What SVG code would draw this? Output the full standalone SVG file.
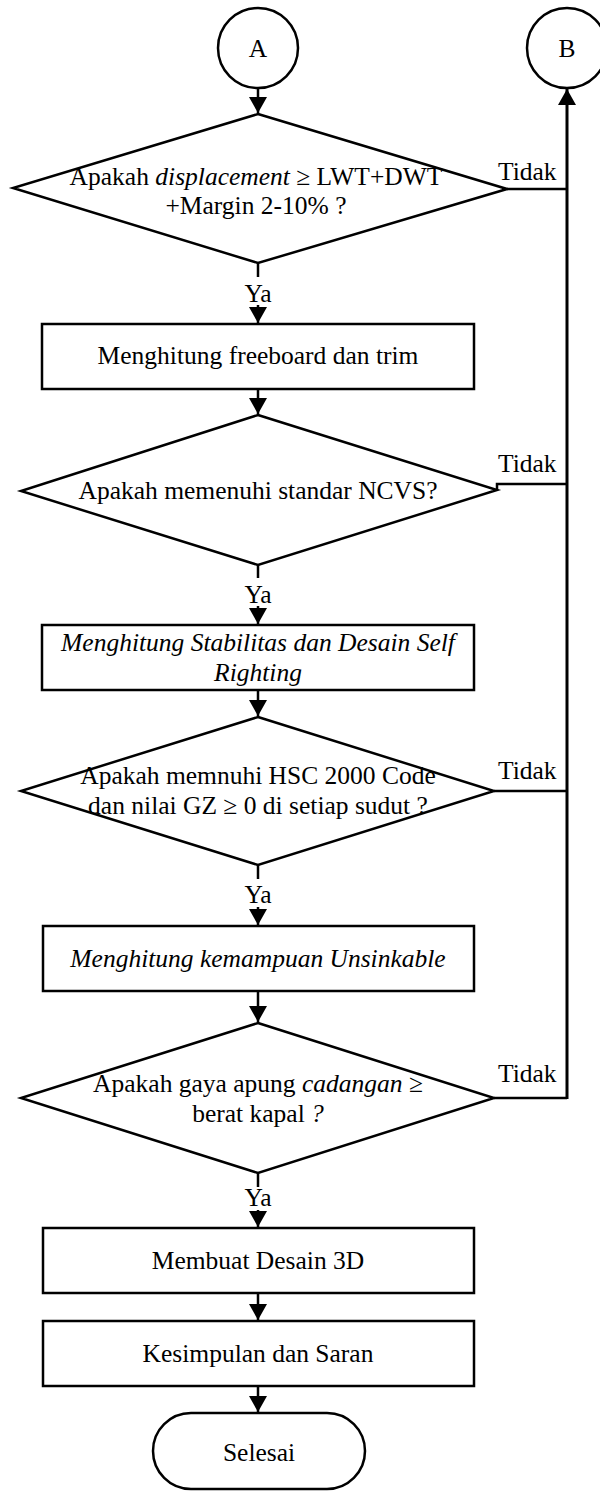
<svg xmlns="http://www.w3.org/2000/svg" width="600" height="1492" viewBox="0 0 600 1492">
<style>
.s{fill:#fff;stroke:#000;stroke-width:2.5}
.c{fill:none;stroke:#000;stroke-width:2.5}
.t{font-family:"Liberation Serif","Times New Roman",serif;font-size:25.5px;fill:#000;text-anchor:middle}
.l{font-family:"Liberation Serif","Times New Roman",serif;font-size:25.5px;fill:#000}
.i{font-style:italic}
</style>
<defs>
<marker id="ah" markerUnits="userSpaceOnUse" markerWidth="18" markerHeight="18" refX="16" refY="9" orient="auto">
<path d="M0,0 L16,9 L0,18 z" fill="#000"/>
</marker>
</defs>
<rect width="600" height="1492" fill="#fff"/>
<g id="connectors">
<line class="c" x1="258" y1="88" x2="258" y2="113" marker-end="url(#ah)"/>
<line class="c" x1="258" y1="263" x2="258" y2="277"/>
<line class="c" x1="258" y1="305" x2="258" y2="323" marker-end="url(#ah)"/>
<line class="c" x1="258" y1="389" x2="258" y2="414" marker-end="url(#ah)"/>
<line class="c" x1="258" y1="565" x2="258" y2="578"/>
<line class="c" x1="258" y1="606" x2="258" y2="624" marker-end="url(#ah)"/>
<line class="c" x1="258" y1="690" x2="258" y2="716" marker-end="url(#ah)"/>
<line class="c" x1="258" y1="865" x2="258" y2="879"/>
<line class="c" x1="258" y1="907" x2="258" y2="925" marker-end="url(#ah)"/>
<line class="c" x1="258" y1="991" x2="258" y2="1022" marker-end="url(#ah)"/>
<line class="c" x1="258" y1="1173" x2="258" y2="1187"/>
<line class="c" x1="258" y1="1210" x2="258" y2="1227" marker-end="url(#ah)"/>
<line class="c" x1="258" y1="1293" x2="258" y2="1320" marker-end="url(#ah)"/>
<line class="c" x1="258" y1="1386" x2="258" y2="1412" marker-end="url(#ah)"/>
<path class="c" d="M507,189 H567"/>
<path class="c" d="M497,490 V484 H567"/>
<path class="c" d="M494,791 H567"/>
<path class="c" d="M494,1098 H567"/>
<line x1="567" y1="1099" x2="567" y2="89" stroke="#000" stroke-width="3" marker-end="url(#ah)"/>
<text class="t" x="258" y="302">Ya</text>
<text class="t" x="258" y="603">Ya</text>
<text class="t" x="258" y="903">Ya</text>
<text class="t" x="258" y="1206">Ya</text>
<text class="l" x="498" y="180">Tidak</text>
<text class="l" x="498" y="472">Tidak</text>
<text class="l" x="498" y="779">Tidak</text>
<text class="l" x="498" y="1082">Tidak</text>
</g>
<g id="nodeA">
<circle class="s" cx="258" cy="48" r="40"/>
<text class="t" x="258" y="57">A</text>
</g>
<g id="nodeB">
<circle class="s" cx="567" cy="48" r="40"/>
<text class="t" x="567" y="57">B</text>
</g>
<g id="dec1">
<polygon class="s" points="258,114 507,189 258,263 13,188"/>
<text class="t" x="256" y="185">Apakah <tspan class="i">displacement</tspan> ≥ LWT+DWT</text>
<text class="t" x="256" y="214">+Margin 2-10% ?</text>
</g>
<g id="box1">
<rect class="s" x="42" y="324" width="432" height="65"/>
<text class="t" x="258" y="364">Menghitung freeboard dan trim</text>
</g>
<g id="dec2">
<polygon class="s" points="258,415 497,490 258,565 21,491"/>
<text class="t" x="258" y="499">Apakah memenuhi standar NCVS?</text>
</g>
<g id="box2">
<rect class="s" x="42" y="625" width="432" height="65"/>
<text class="t i" x="258" y="651">Menghitung Stabilitas dan Desain Self</text>
<text class="t i" x="258" y="681">Righting</text>
</g>
<g id="dec3">
<polygon class="s" points="258,717 494,791 258,865 21,791"/>
<text class="t" x="258" y="784">Apakah memnuhi HSC 2000 Code</text>
<text class="t" x="258" y="814">dan nilai GZ ≥ 0 di setiap sudut ?</text>
</g>
<g id="box3">
<rect class="s" x="43" y="926" width="431" height="65"/>
<text class="t i" x="258" y="967">Menghitung kemampuan Unsinkable</text>
</g>
<g id="dec4">
<polygon class="s" points="258,1023 494,1098 258,1173 21,1098"/>
<text class="t" x="258" y="1092">Apakah gaya apung <tspan class="i">cadangan</tspan> ≥</text>
<text class="t" x="258" y="1122">berat kapal <tspan class="i">?</tspan></text>
</g>
<g id="box4">
<rect class="s" x="43" y="1228" width="431" height="65"/>
<text class="t" x="258" y="1269">Membuat Desain 3D</text>
</g>
<g id="box5">
<rect class="s" x="43" y="1321" width="431" height="65"/>
<text class="t" x="258" y="1362">Kesimpulan dan Saran</text>
</g>
<g id="end">
<rect class="s" x="153" y="1413" width="212" height="76" rx="38" ry="38"/>
<text class="t" x="259" y="1461">Selesai</text>
</g>
</svg>
